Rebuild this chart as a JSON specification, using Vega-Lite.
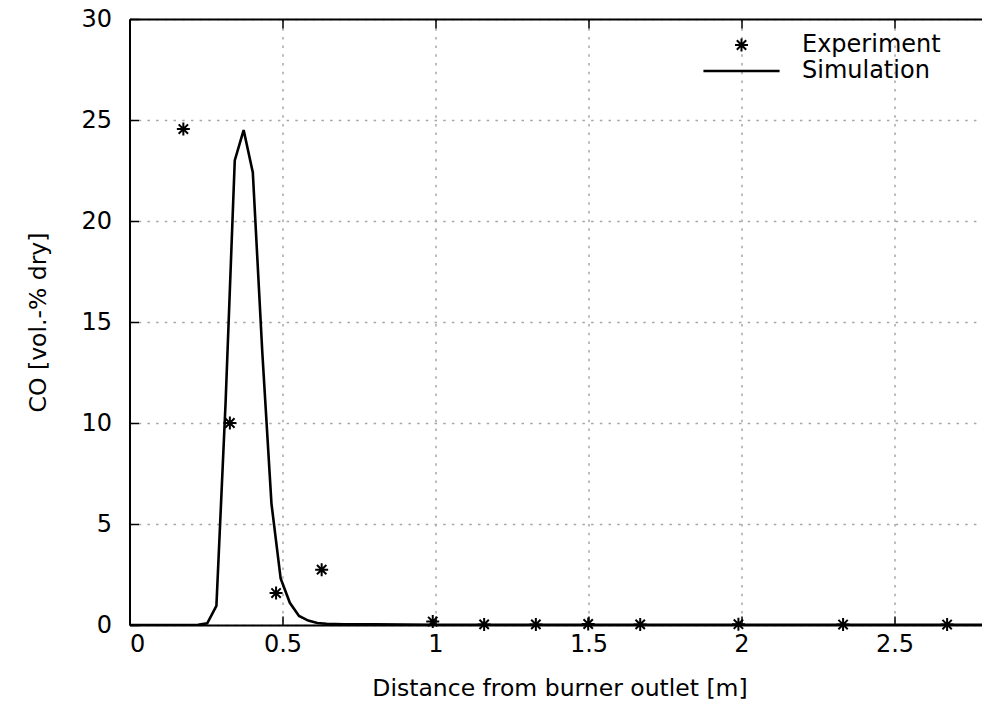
{
  "$schema": "https://vega.github.io/schema/vega-lite/v6.json",
  "width": 852.5,
  "height": 606,
  "autosize": {"type": "none"},
  "padding": {"left": 129.5, "top": 19, "right": 0, "bottom": 86},
  "background": "white",
  "config": {
    "view": {"stroke": null},
    "font": "DejaVu Sans",
    "axis": {
      "labelFont": "DejaVu Sans",
      "titleFont": "DejaVu Sans",
      "labelFontSize": 24,
      "titleFontSize": 23.5,
      "labelColor": "black",
      "titleColor": "black",
      "titleFontWeight": "normal",
      "domainColor": "black",
      "domainWidth": 2,
      "tickColor": "black",
      "tickWidth": 1.5,
      "tickSize": -9,
      "gridColor": "#a6a6a6",
      "gridWidth": 1.5,
      "gridDash": [2.5, 6.2]
    },
    "legend": {
      "orient": "none",
      "legendX": 572.5,
      "legendY": 13,
      "title": null,
      "padding": 0,
      "labelFont": "DejaVu Sans",
      "labelFontSize": 24,
      "labelColor": "black",
      "labelOffset": 21,
      "clipHeight": 26,
      "rowPadding": 0,
      "symbolStrokeColor": "black",
      "symbolFillColor": "transparent",
      "symbolOpacity": 1
    }
  },
  "datasets": {
    "experiment": [
      {"series": "Experiment", "distance": 0.176, "co": 24.55},
      {"series": "Experiment", "distance": 0.328, "co": 10.0},
      {"series": "Experiment", "distance": 0.479, "co": 1.58},
      {"series": "Experiment", "distance": 0.628, "co": 2.74},
      {"series": "Experiment", "distance": 0.991, "co": 0.17},
      {"series": "Experiment", "distance": 1.159, "co": 0.03},
      {"series": "Experiment", "distance": 1.328, "co": 0.03},
      {"series": "Experiment", "distance": 1.499, "co": 0.05},
      {"series": "Experiment", "distance": 1.669, "co": 0.03},
      {"series": "Experiment", "distance": 1.99, "co": 0.04},
      {"series": "Experiment", "distance": 2.332, "co": 0.02},
      {"series": "Experiment", "distance": 2.672, "co": 0.02}
    ],
    "simulation": [
      {"series": "Simulation", "distance": 0.0, "co": 0.0},
      {"series": "Simulation", "distance": 0.1, "co": 0.0},
      {"series": "Simulation", "distance": 0.2, "co": 0.0},
      {"series": "Simulation", "distance": 0.224, "co": 0.01},
      {"series": "Simulation", "distance": 0.254, "co": 0.08},
      {"series": "Simulation", "distance": 0.284, "co": 0.95},
      {"series": "Simulation", "distance": 0.314, "co": 11.0},
      {"series": "Simulation", "distance": 0.344, "co": 23.0},
      {"series": "Simulation", "distance": 0.373, "co": 24.5},
      {"series": "Simulation", "distance": 0.403, "co": 22.4},
      {"series": "Simulation", "distance": 0.434, "co": 13.5},
      {"series": "Simulation", "distance": 0.464, "co": 6.0},
      {"series": "Simulation", "distance": 0.494, "co": 2.3},
      {"series": "Simulation", "distance": 0.524, "co": 1.1},
      {"series": "Simulation", "distance": 0.554, "co": 0.45},
      {"series": "Simulation", "distance": 0.584, "co": 0.22},
      {"series": "Simulation", "distance": 0.614, "co": 0.1},
      {"series": "Simulation", "distance": 0.644, "co": 0.06},
      {"series": "Simulation", "distance": 0.7, "co": 0.04},
      {"series": "Simulation", "distance": 0.8, "co": 0.03},
      {"series": "Simulation", "distance": 0.9, "co": 0.02},
      {"series": "Simulation", "distance": 1.0, "co": 0.01},
      {"series": "Simulation", "distance": 1.5, "co": 0.01},
      {"series": "Simulation", "distance": 2.0, "co": 0.01},
      {"series": "Simulation", "distance": 2.5, "co": 0.01},
      {"series": "Simulation", "distance": 2.786, "co": 0.01}
    ]
  },
  "encoding": {
    "y": {
      "field": "co",
      "type": "quantitative",
      "scale": {"domain": [0, 30], "nice": false, "zero": true},
      "axis": {
        "title": "CO [vol.-% dry]",
        "values": [0, 5, 10, 15, 20, 25, 30],
        "format": "~g",
        "grid": true,
        "labelPadding": 27,
        "titleX": -91.5,
        "titleBaseline": "middle"
      }
    }
  },
  "layer": [
    {
      "data": {"name": "experiment"},
      "mark": {"type": "point", "filled": false, "stroke": "black", "opacity": 1},
      "encoding": {
        "x": {
          "field": "distance",
          "type": "quantitative",
          "scale": {"domain": [0, 2.786], "nice": false, "zero": true},
          "axis": {
            "orient": "bottom",
            "title": "Distance from burner outlet [m]",
            "values": [0, 0.5, 1, 1.5, 2, 2.5],
            "format": "~g",
            "grid": true,
            "labelPadding": 16,
            "titleX": 430,
            "titleY": 63,
            "titleBaseline": "middle"
          }
        },
        "shape": {
          "field": "series",
          "type": "nominal",
          "scale": {
            "domain": ["Experiment", "Simulation"],
            "range": ["M-1,0L1,0M0,-1L0,1M-0.72,-0.72L0.72,0.72M-0.72,0.72L0.72,-0.72", "stroke"]
          },
          "legend": {"title": null}
        },
        "size": {
          "field": "series",
          "type": "ordinal",
          "scale": {"domain": ["Experiment", "Simulation"], "range": [169, 5800]},
          "legend": {"title": null}
        },
        "strokeWidth": {
          "field": "series",
          "type": "ordinal",
          "scale": {"domain": ["Experiment", "Simulation"], "range": [2, 2.5]},
          "legend": {"title": null}
        }
      }
    },
    {
      "data": {"name": "simulation"},
      "mark": {"type": "line", "stroke": "black", "strokeWidth": 2.6, "clip": true},
      "encoding": {
        "x": {
          "field": "distance",
          "type": "quantitative",
          "scale": {"domain": [0, 2.786], "nice": false, "zero": true},
          "axis": {
            "orient": "top",
            "title": null,
            "labels": false,
            "grid": false,
            "values": [0, 0.5, 1, 1.5, 2, 2.5]
          }
        }
      }
    }
  ],
  "resolve": {"axis": {"x": "independent"}}
}
